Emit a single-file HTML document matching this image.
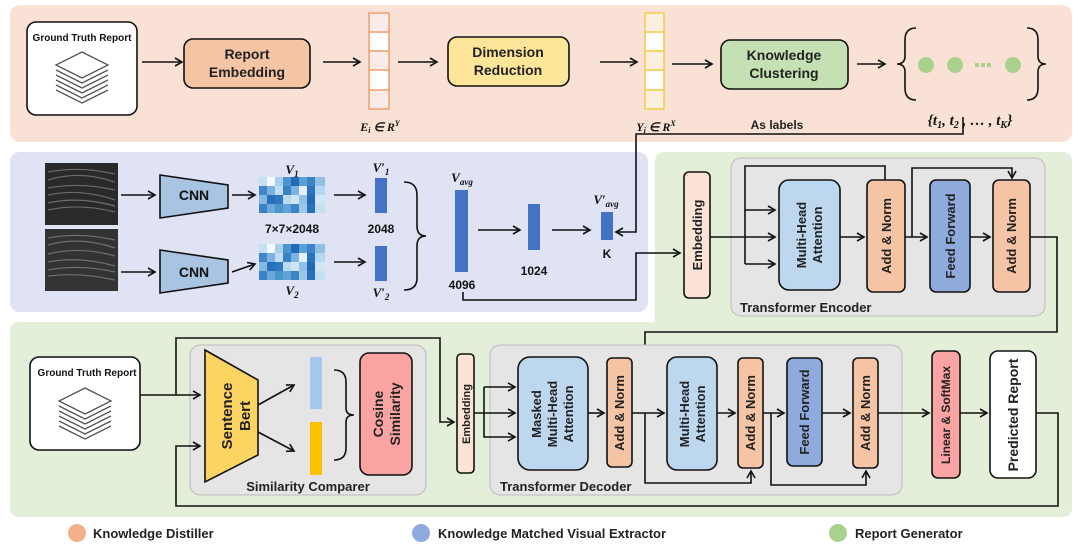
<!DOCTYPE html>
<html><head><meta charset="utf-8"><style>
html,body{margin:0;padding:0;background:#fff;}
svg{display:block;font-family:"Liberation Sans",sans-serif;font-weight:bold;}
</style></head><body>
<svg width="1080" height="552" viewBox="0 0 1080 552" xmlns="http://www.w3.org/2000/svg">
<defs>
<marker id="a" markerWidth="10" markerHeight="10" refX="8" refY="5" orient="auto" markerUnits="userSpaceOnUse">
<path d="M1,1 L8,5 L1,9" fill="none" stroke="#111" stroke-width="1.6"/></marker>
<g id="stack">
<path d="M-26,8 L0,21 L26,8 M-26,13 L0,26 L26,13 M-26,18 L0,31 L26,18 M-26,23 L0,36 L26,23 M-26,28 L0,41 L26,28" fill="none" stroke="#555" stroke-width="1.3"/>
<path d="M0,-10 L26,3 L0,16 L-26,3 Z" fill="#fff" stroke="#555" stroke-width="1.3"/>
</g>
</defs>

<rect x="10" y="5" width="1062" height="137" rx="10" fill="#f9e2d5"/>
<rect x="10" y="152" width="638" height="160" rx="10" fill="#dfe3f3"/>
<path d="M665,152 H1062 Q1072,152 1072,162 V507 Q1072,517 1062,517 H20 Q10,517 10,507 V332 Q10,322 20,322 H655 V162 Q655,152 665,152 Z" fill="#e3efd9"/>

<g stroke="#111" stroke-width="1.6" fill="none">
<rect x="27" y="22" width="110" height="93" rx="9" fill="#fff"/>
<line x1="142" y1="62" x2="182" y2="62" marker-end="url(#a)"/>
<rect x="184" y="39" width="126" height="49" rx="9" fill="#f4c4a4"/>
<line x1="323" y1="62" x2="360" y2="62" marker-end="url(#a)"/>
<line x1="398" y1="62" x2="437" y2="62" marker-end="url(#a)"/>
<rect x="448" y="37" width="121" height="49" rx="9" fill="#fde59a"/>
<line x1="600" y1="62" x2="637" y2="62" marker-end="url(#a)"/>
<line x1="672" y1="64" x2="712" y2="64" marker-end="url(#a)"/>
<rect x="721" y="40" width="127" height="49" rx="9" fill="#c5e1b4"/>
<line x1="857" y1="64" x2="885" y2="64" marker-end="url(#a)"/>
<path d="M916,28 Q905,28 905,40 V56 Q905,64 897,64 Q905,64 905,72 V88 Q905,100 916,100"/>
<path d="M1027,28 Q1038,28 1038,40 V56 Q1038,64 1046,64 Q1038,64 1038,72 V88 Q1038,100 1027,100"/>
<path d="M963,117 V134 H636 V232 H616" marker-end="url(#a)"/>
</g>
<use href="#stack" x="82" y="62"/>
<g fill="none" stroke="#f0a070" stroke-width="1.5">
<rect x="369" y="13" width="20" height="96" fill="#fbebe8"/>
<line x1="369" y1="32" x2="389" y2="32"/><line x1="369" y1="51" x2="389" y2="51"/><line x1="369" y1="70" x2="389" y2="70"/><line x1="369" y1="90" x2="389" y2="90"/>
</g>
<rect x="370" y="33" width="18" height="17" fill="#fff"/><rect x="370" y="71" width="18" height="18" fill="#fff"/>
<g fill="none" stroke="#f5cc4a" stroke-width="1.5">
<rect x="645" y="13" width="19" height="96" fill="#fbefe2"/>
<line x1="645" y1="32" x2="664" y2="32"/><line x1="645" y1="51" x2="664" y2="51"/><line x1="645" y1="70" x2="664" y2="70"/><line x1="645" y1="90" x2="664" y2="90"/>
</g>
<rect x="646" y="33" width="17" height="17" fill="#fff"/><rect x="646" y="71" width="17" height="18" fill="#fff"/>
<g fill="#a9d18e"><circle cx="926" cy="65" r="8"/><circle cx="955" cy="65" r="8"/><circle cx="1013" cy="65" r="8"/>
<rect x="975" y="63" width="4" height="4"/><rect x="981" y="63" width="4" height="4"/><rect x="987" y="63" width="4" height="4"/></g>
<g font-size="10" text-anchor="middle" fill="#111">
<text x="82" y="41">Ground Truth Report</text>
</g>
<g font-size="14" text-anchor="middle" fill="#222">
<text x="247" y="59">Report</text><text x="247" y="77">Embedding</text>
<text x="508" y="57">Dimension</text><text x="508" y="75">Reduction</text>
<text x="784" y="60">Knowledge</text><text x="784" y="78">Clustering</text>
<text x="777" y="129" font-size="12">As labels</text>
</g>
<g font-family="Liberation Serif,serif" font-style="italic" font-weight="bold" fill="#111" text-anchor="middle">
<text x="380" y="131" font-size="12">E<tspan font-size="8" dy="2">i</tspan><tspan dy="-2"> ∈ R</tspan><tspan font-size="8" dy="-5">Y</tspan></text>
<text x="656" y="131" font-size="12">Y<tspan font-size="8" dy="2">i</tspan><tspan dy="-2"> ∈ R</tspan><tspan font-size="8" dy="-5">X</tspan></text>
<text x="970" y="125" font-size="15">{t<tspan font-size="10" dy="3">1</tspan><tspan dy="-3">, t</tspan><tspan font-size="10" dy="3">2</tspan><tspan dy="-3"> , … , t</tspan><tspan font-size="10" dy="3">K</tspan><tspan dy="-3">}</tspan></text>
</g>

<rect x="45" y="163" width="73" height="62" fill="#2a2a2a"/>
<rect x="45" y="229" width="73" height="62" fill="#333"/>
<g stroke="#999" stroke-width="1.2" opacity="0.6" fill="none"><path d="M48,172 Q80,166 115,174 M48,180 Q80,170 115,182 M48,188 Q80,182 115,190 M48,195 Q80,188 115,200 M48,203 Q80,196 115,206 M48,210 Q80,203 115,212 M48,238 Q80,232 115,240 M48,245 Q80,236 115,248 M48,254 Q80,246 115,256 M48,262 Q80,256 115,266 M48,270 Q80,264 115,272 M48,276 Q80,272 115,280"/></g>
<g stroke="#111" stroke-width="1.6" fill="none">
<line x1="121" y1="195" x2="155" y2="195" marker-end="url(#a)"/>
<line x1="121" y1="272" x2="155" y2="272" marker-end="url(#a)"/>
<path d="M160,175 L228,185 V208 L160,218 Z" fill="#a9c3e3"/>
<path d="M160,250 L228,260 V283 L160,293 Z" fill="#a9c3e3"/>
<line x1="232" y1="195" x2="255" y2="195" marker-end="url(#a)"/>
<line x1="232" y1="272" x2="255" y2="264" marker-end="url(#a)"/>
<line x1="334" y1="195" x2="365" y2="195" marker-end="url(#a)"/>
<line x1="334" y1="262" x2="365" y2="262" marker-end="url(#a)"/>
<path d="M404,182 Q417,182 417,195 V226 Q417,236 426,236 Q417,236 417,246 V278 Q417,290 404,290"/>
<line x1="478" y1="230" x2="520" y2="230" marker-end="url(#a)"/>
<line x1="552" y1="230" x2="590" y2="230" marker-end="url(#a)"/>
<path d="M463,292 V300 H636 V253 H680" marker-end="url(#a)"/>
</g>
<g id="hm">
<rect x="259" y="177" width="66" height="36" fill="#9cc7e6"/>
<g>
<rect x="259" y="177" width="8" height="9" fill="#c6e0f3"/><rect x="267" y="177" width="8" height="9" fill="#f4f9ff"/><rect x="275" y="177" width="8" height="9" fill="#a9cfec"/><rect x="283" y="177" width="8" height="9" fill="#4a94cf"/><rect x="291" y="177" width="8" height="9" fill="#2369b6"/><rect x="299" y="177" width="8" height="9" fill="#5aa0d6"/><rect x="307" y="177" width="8" height="9" fill="#3c84c6"/><rect x="315" y="177" width="10" height="9" fill="#8fc0e6"/>
<rect x="259" y="186" width="8" height="9" fill="#3f87c8"/><rect x="267" y="186" width="8" height="9" fill="#7ab3df"/><rect x="275" y="186" width="8" height="9" fill="#c0ddf2"/><rect x="283" y="186" width="8" height="9" fill="#3a82c4"/><rect x="291" y="186" width="8" height="9" fill="#7ab3df"/><rect x="299" y="186" width="8" height="9" fill="#e4f0fa"/><rect x="307" y="186" width="8" height="9" fill="#2b73bb"/><rect x="315" y="186" width="10" height="9" fill="#b6d7f0"/>
<rect x="259" y="195" width="8" height="9" fill="#82b8e1"/><rect x="267" y="195" width="8" height="9" fill="#2a6fb9"/><rect x="275" y="195" width="8" height="9" fill="#2f78bf"/><rect x="283" y="195" width="8" height="9" fill="#b9d9f1"/><rect x="291" y="195" width="8" height="9" fill="#cfe5f6"/><rect x="299" y="195" width="8" height="9" fill="#8fc0e6"/><rect x="307" y="195" width="8" height="9" fill="#2369b6"/><rect x="315" y="195" width="10" height="9" fill="#d2e6f6"/>
<rect x="259" y="204" width="8" height="9" fill="#3a82c4"/><rect x="267" y="204" width="8" height="9" fill="#6aa9db"/><rect x="275" y="204" width="8" height="9" fill="#4b95cf"/><rect x="283" y="204" width="8" height="9" fill="#5ea2d8"/><rect x="291" y="204" width="8" height="9" fill="#3b84c6"/><rect x="299" y="204" width="8" height="9" fill="#9cc7e6"/><rect x="307" y="204" width="8" height="9" fill="#2a6fb9"/><rect x="315" y="204" width="10" height="9" fill="#c6e0f3"/>
</g></g>
<use href="#hm" y="67"/>
<g fill="#4472c4">
<rect x="375" y="178" width="12" height="35"/><rect x="375" y="246" width="12" height="35"/>
<rect x="455" y="190" width="13" height="82"/><rect x="528" y="204" width="12" height="46"/><rect x="601" y="212" width="12" height="28"/>
</g>
<g font-size="12" text-anchor="middle" fill="#111">
<text x="194" y="200" font-size="14">CNN</text><text x="194" y="277" font-size="14">CNN</text>
<text x="292" y="233">7×7×2048</text><text x="381" y="233">2048</text>
<text x="462" y="289">4096</text><text x="534" y="275">1024</text><text x="607" y="258">K</text>
</g>
<g font-family="Liberation Serif,serif" font-style="italic" font-weight="bold" fill="#111" text-anchor="middle" font-size="13">
<text x="292" y="174">V<tspan font-size="9" dy="3">1</tspan></text>
<text x="292" y="295">V<tspan font-size="9" dy="3">2</tspan></text>
<text x="381" y="172">V′<tspan font-size="9" dy="3">1</tspan></text>
<text x="381" y="297">V′<tspan font-size="9" dy="3">2</tspan></text>
<text x="462" y="182">V<tspan font-size="9" dy="3">avg</tspan></text>
<text x="606" y="204">V′<tspan font-size="9" dy="3">avg</tspan></text>
</g>

<rect x="731" y="158" width="314" height="158" rx="10" fill="#e5e5e5" stroke="#bbb"/>
<g stroke="#111" stroke-width="1.6" fill="none">
<rect x="684" y="172" width="26" height="126" rx="5" fill="#fbe3d5"/>
<rect x="779" y="180" width="61" height="110" rx="10" fill="#bdd7ee"/>
<rect x="867" y="180" width="38" height="112" rx="6" fill="#f4c4a4"/>
<rect x="930" y="180" width="40" height="112" rx="6" fill="#8faadc"/>
<rect x="993" y="180" width="37" height="112" rx="6" fill="#f4c4a4"/>
<line x1="710" y1="237" x2="775" y2="237" marker-end="url(#a)"/>
<path d="M745,210 H775" marker-end="url(#a)"/>
<path d="M745,264 H775" marker-end="url(#a)"/>
<path d="M745,264 V166 H885 V180"/>
<line x1="840" y1="237" x2="864" y2="237" marker-end="url(#a)"/>
<line x1="905" y1="237" x2="927" y2="237" marker-end="url(#a)"/>
<path d="M912,237 V168 H1012 V178" marker-end="url(#a)"/>
<line x1="970" y1="237" x2="990" y2="237" marker-end="url(#a)"/>
<path d="M1030,237 H1057 V332 H645 V393 H664" marker-end="url(#a)"/>
<path d="M645,372 H664" marker-end="url(#a)"/>
</g>
<g font-size="13" fill="#222" text-anchor="middle">
<text transform="translate(702,235) rotate(-90)">Embedding</text>
<text transform="translate(806,235) rotate(-90)">Multi-Head</text>
<text transform="translate(822,235) rotate(-90)">Attention</text>
<text transform="translate(891,236) rotate(-90)">Add &amp; Norm</text>
<text transform="translate(955,236) rotate(-90)">Feed Forward</text>
<text transform="translate(1016,236) rotate(-90)">Add &amp; Norm</text>
<text x="740" y="312" text-anchor="start">Transformer Encoder</text>
</g>

<rect x="190" y="345" width="236" height="150" rx="10" fill="#e5e5e5" stroke="#bbb"/>
<rect x="490" y="345" width="412" height="150" rx="10" fill="#e5e5e5" stroke="#bbb"/>
<g stroke="#111" stroke-width="1.6" fill="none">
<rect x="30" y="357" width="110" height="93" rx="9" fill="#fff"/>
<path d="M205,350 L258,380 V455 L205,482 Z" fill="#fcd462"/>
<rect x="360" y="353" width="52" height="122" rx="9" fill="#f9a3a3"/>
<path d="M334,370 Q346,370 346,382 V408 Q346,415 354,415 Q346,415 346,422 V448 Q346,460 334,460"/>
<line x1="140" y1="395" x2="200" y2="395" marker-end="url(#a)"/>
<path d="M176,395 V338 H440 V422 H454" marker-end="url(#a)"/>
<path d="M1036,413 H1058 V506 H176 V446 H200" marker-end="url(#a)"/>
<line x1="258" y1="405" x2="294" y2="385" marker-end="url(#a)"/>
<line x1="258" y1="432" x2="294" y2="451" marker-end="url(#a)"/>
<rect x="457" y="354" width="17" height="119" rx="4" fill="#fbe3d5"/>
<line x1="474" y1="413" x2="515" y2="413" marker-end="url(#a)"/>
<path d="M484,387 H515" marker-end="url(#a)"/>
<path d="M484,387 V437 H515" marker-end="url(#a)"/>
<rect x="518" y="357" width="70" height="113" rx="12" fill="#bdd7ee"/>
<rect x="607" y="358" width="25" height="109" rx="5" fill="#f4c4a4"/>
<rect x="667" y="357" width="50" height="113" rx="10" fill="#bdd7ee"/>
<rect x="738" y="358" width="25" height="110" rx="5" fill="#f4c4a4"/>
<rect x="787" y="358" width="35" height="108" rx="6" fill="#8faadc"/>
<rect x="853" y="358" width="25" height="110" rx="5" fill="#f4c4a4"/>
<rect x="932" y="351" width="28" height="127" rx="6" fill="#f9a3a3"/>
<rect x="990" y="351" width="46" height="127" rx="8" fill="#fff"/>
<line x1="588" y1="413" x2="604" y2="413" marker-end="url(#a)"/>
<line x1="632" y1="413" x2="664" y2="413" marker-end="url(#a)"/>
<path d="M645,413 V483 H751 V471" marker-end="url(#a)"/>
<line x1="717" y1="413" x2="735" y2="413" marker-end="url(#a)"/>
<line x1="763" y1="413" x2="784" y2="413" marker-end="url(#a)"/>
<path d="M771,413 V485 H866 V471" marker-end="url(#a)"/>
<line x1="822" y1="413" x2="850" y2="413" marker-end="url(#a)"/>
<line x1="878" y1="413" x2="929" y2="413" marker-end="url(#a)"/>
<line x1="960" y1="413" x2="987" y2="413" marker-end="url(#a)"/>
</g>
<use href="#stack" x="85" y="398"/>
<rect x="310" y="357" width="12" height="52" fill="#a6c8ec"/>
<rect x="310" y="422" width="12" height="53" fill="#ffc000"/>
<g font-size="13" fill="#222" text-anchor="middle">
<text x="87" y="376" font-size="10" fill="#111">Ground Truth Report</text>
<text transform="translate(232,416) rotate(-90)" font-size="15">Sentence</text>
<text transform="translate(250,416) rotate(-90)" font-size="15">Bert</text>
<text transform="translate(383,414) rotate(-90)" font-size="14">Cosine</text>
<text transform="translate(400,414) rotate(-90)" font-size="14">Similarity</text>
<text x="308" y="491">Similarity Comparer</text>
<text transform="translate(470,414) rotate(-90)" font-size="11">Embedding</text>
<text transform="translate(541,414) rotate(-90)">Masked</text>
<text transform="translate(557,414) rotate(-90)">Multi-Head</text>
<text transform="translate(573,414) rotate(-90)">Attention</text>
<text transform="translate(624,413) rotate(-90)">Add &amp; Norm</text>
<text transform="translate(689,414) rotate(-90)">Multi-Head</text>
<text transform="translate(705,414) rotate(-90)">Attention</text>
<text transform="translate(755,413) rotate(-90)">Add &amp; Norm</text>
<text transform="translate(809,412) rotate(-90)">Feed Forward</text>
<text transform="translate(870,413) rotate(-90)">Add &amp; Norm</text>
<text transform="translate(950,415) rotate(-90)" font-size="12">Linear &amp; SoftMax</text>
<text transform="translate(1018,415) rotate(-90)" font-size="14">Predicted Report</text>
<text x="500" y="491" text-anchor="start">Transformer Decoder</text>
</g>

<circle cx="77" cy="533" r="9" fill="#f2b18a"/>
<circle cx="421" cy="533" r="9" fill="#8faadc"/>
<circle cx="838" cy="533" r="9" fill="#a9d18e"/>
<g font-size="13" fill="#222">
<text x="93" y="538">Knowledge Distiller</text>
<text x="438" y="538">Knowledge Matched Visual Extractor</text>
<text x="855" y="538">Report Generator</text>
</g>
</svg>
</body></html>
